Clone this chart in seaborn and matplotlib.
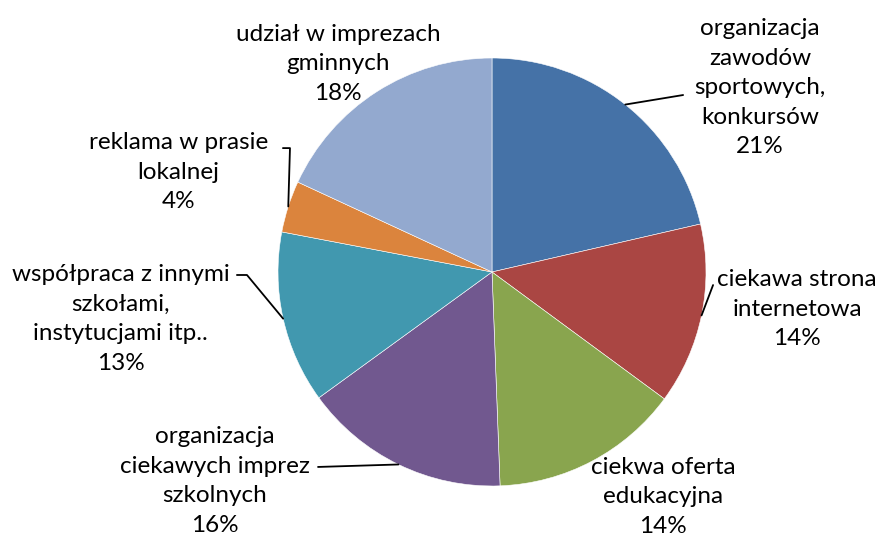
import matplotlib
matplotlib.use('Agg')
import matplotlib.pyplot as plt
import seaborn as sns
import numpy as np

# data (share of answers, %)
categories = [
    'organizacja\nzawodów\nsportowych,\nkonkursów',
    'ciekawa strona\ninternetowa',
    'ciekwa oferta\nedukacyjna',
    'organizacja\nciekawych imprez\nszkolnych',
    'współpraca z innymi\nszkołami,\ninstytucjami itp..',
    'reklama w prasie\nlokalnej',
    'udział w imprezach\ngminnych',
]
values = [21.4, 13.7, 14.3, 15.6, 13.0, 3.9, 18.1]
colors = ['#4572A7', '#AA4643', '#89A54E', '#71588F', '#4198AF', '#DB843D', '#93A9CF']

sns.set_theme(style='white')
plt.rcParams['font.family'] = ['Lato', 'DejaVu Sans']

fig = plt.figure(figsize=(8.8, 5.41), dpi=100)
# pie centred at (492, 272) px, radius 214 px
cx, cy, r = 492, 272, 214
W, H = 880, 541
ax = fig.add_axes([(cx - r) / W, (H - cy - r) / H, 2 * r / W, 2 * r / H])

wedges, _ = ax.pie(values, colors=colors, startangle=90, counterclock=False,
                   radius=1, wedgeprops=dict(edgecolor='white', linewidth=0.4))
ax.set_xlim(-1, 1)
ax.set_ylim(-1, 1)
ax.set_aspect('equal')
ax.axis('off')

# label centres and leader line paths (in pie radius units)
label_pos = [(1.252, 0.86), (1.425, -0.173), (0.799, -1.051), (-1.295, -0.976),
             (-1.735, -0.22), (-1.465, 0.467), (-0.72, 0.972)]
leaders = [[(0.893, 0.827)], [(1.033, -0.061)], None, [(-0.813, -0.911)],
           [(-1.145, -0.014), (-1.192, -0.014)], [(-0.944, 0.579), (-0.977, 0.579)], None]

for w, lab, v, pos, lead in zip(wedges, categories, values, label_pos, leaders):
    txt = f'{lab}\n{round(v):.0f}%'
    ax.text(pos[0], pos[1], txt, ha='center', va='center', fontsize=17.5,
            color='black', linespacing=1.5, clip_on=False)
    if lead:
        ang = np.deg2rad((w.theta1 + w.theta2) / 2)
        xs = [np.cos(ang)] + [p[0] for p in lead]
        ys = [np.sin(ang)] + [p[1] for p in lead]
        ax.plot(xs, ys, color='black', lw=1.3, clip_on=False)

fig.savefig('out.png', dpi=100)
